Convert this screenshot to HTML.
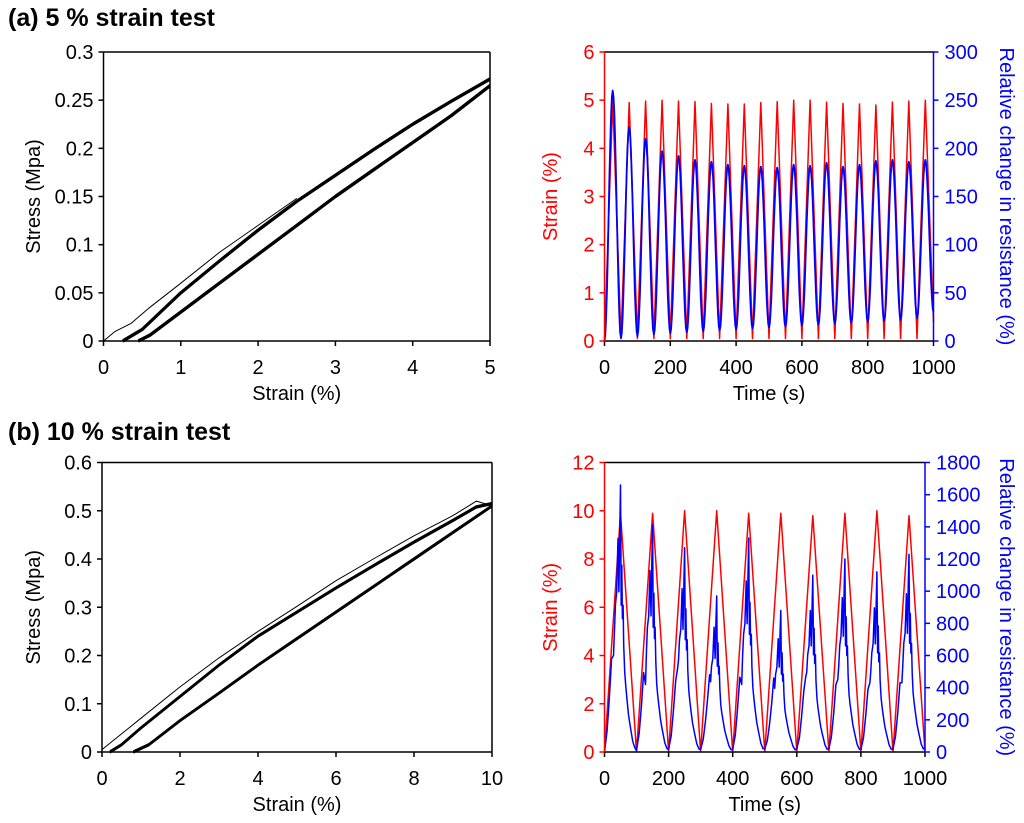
<!DOCTYPE html>
<html><head><meta charset="utf-8"><style>
html,body{margin:0;padding:0;background:#fff;}
svg{display:block;font-family:"Liberation Sans",Arial,sans-serif;}
</style></head><body>
<svg id="fig" width="1024" height="823" viewBox="0 0 1024 823" xmlns="http://www.w3.org/2000/svg">
<text x="8" y="26" font-size="25" font-weight="bold">(a) 5 % strain test</text>
<text x="8" y="440" font-size="25" font-weight="bold">(b) 10 % strain test</text>
</svg>
<script>
// ---- Data: panel (a) stress-strain ----
const aLoadX = [0.25,0.5,1,1.5,2,2.5,3,3.5,4,4.5,5];
const aLoadY = [0,0.012,0.05,0.083,0.115,0.145,0.172,0.199,0.225,0.249,0.272];
const aUnloadX = [0.45,0.6,1,1.5,2,2.5,3,3.5,4,4.5,5];
const aUnloadY = [0,0.006,0.03,0.06,0.09,0.12,0.15,0.178,0.206,0.234,0.265];
const aFirstX = [0,0.15,0.35,0.6,1,1.5,2,2.5];
const aFirstY = [0,0.01,0.018,0.035,0.06,0.092,0.12,0.148];
const aXTicks = [0,1,2,3,4,5];
const aYTicks = [0,0.05,0.1,0.15,0.2,0.25,0.3];
// ---- Data: panel (a) time series ----
const aRedPeaks = [5.0,4.95,4.98,5.0,4.98,4.97,4.93,4.92,4.92,4.95,4.97,5.0,5.0,4.96,4.93,4.92,4.9,4.96,4.98,5.0];
const aRedTroughs = [0,0.05,0.05,0.05,0.05,0.05,0.05,0.05,0.05,0.05,0.05,0.05,0.05,0.05,0.05,0.05,0.05,0.05,0.05,0.05,0.4];
const aBluePeaks = [260,222,210,197,192,188,186,183,182,181,180,183,182,185,181,183,187,188,186,188];
const aBlueTroughs = [0,3,5,7,8,9,10,11,12,13,14,15,16,17,18,19,20,21,22,24,30];
const aTimeTicks = [0,200,400,600,800,1000];
const aStrainTicks = [0,1,2,3,4,5,6];
const aResTicks = [0,50,100,150,200,250,300];
// ---- Data: panel (b) stress-strain ----
const bLoadX = [0.2,0.5,1,2,3,4,5,6,7,8,9,9.6,10];
const bLoadY = [0,0.015,0.05,0.115,0.18,0.24,0.29,0.34,0.388,0.435,0.48,0.508,0.515];
const bUnloadX = [0.8,1.2,2,3,4,5,6,7,8,9,10];
const bUnloadY = [0,0.015,0.065,0.122,0.18,0.235,0.29,0.345,0.4,0.455,0.51];
const bFirstX = [0,1,2,3,4,5,6,7,8,9,9.6,10];
const bFirstY = [0.005,0.07,0.135,0.195,0.25,0.302,0.355,0.402,0.448,0.49,0.52,0.51];
const bXTicks = [0,2,4,6,8,10];
const bYTicks = [0,0.1,0.2,0.3,0.4,0.5,0.6];
// ---- Data: panel (b) time series ----
const bRedPeaks = [9.9,9.9,10,10,9.9,9.9,9.8,9.9,10,9.8];
const bBluePeaks = [1660,1410,1270,970,1330,880,1100,1200,1120,1230];
const bBlueShoulder = [600,420,520,480,420,460,470,450,430,430];
const bBlueTroughs = [0,10,15,15,15,20,20,20,15,20,30];
const bTimeTicks = [0,200,400,600,800,1000];
const bStrainTicks = [0,2,4,6,8,10,12];
const bResTicks = [0,200,400,600,800,1000,1200,1400,1600,1800];

const NS = "http://www.w3.org/2000/svg";
const svg = document.getElementById('fig');
const FS = 20;
function mk(tag, attrs, parent){
  const e = document.createElementNS(NS, tag);
  for (const k in attrs) e.setAttribute(k, attrs[k]);
  (parent||svg).appendChild(e);
  return e;
}
function lin(d0,d1,r0,r1){ return v => r0 + (v-d0)/(d1-d0)*(r1-r0); }
function path(xs, ys, sx, sy){ return xs.map((x,i)=>(i?'L':'M')+sx(x).toFixed(1)+','+sy(ys[i]).toFixed(1)).join(''); }

function frame(x0,x1,y0,y1,leftCol,rightCol){
  let e = mk('line',{x1:x0,y1:y0,x2:x1,y2:y0,stroke:'#000','stroke-width':1.5});
   
  e = mk('line',{x1:x0,y1:y1,x2:x1,y2:y1,stroke:'#000','stroke-width':1.5});
   
  e = mk('line',{x1:x0,y1:y0,x2:x0,y2:y1,stroke:leftCol,'stroke-width':1.5});
   
  e = mk('line',{x1:x1,y1:y0,x2:x1,y2:y1,stroke:rightCol,'stroke-width':1.5});
   
}
function xTicks(ticks, sx, y1){
  ticks.forEach(t=>{
    const l = mk('line',{x1:sx(t),y1:y1,x2:sx(t),y2:y1+5,stroke:'#000','stroke-width':1.5});
     
    const tx = mk('text',{x:sx(t),y:y1+33,'font-size':FS,'text-anchor':'middle',fill:'#000'});
    tx.textContent = t;
     
  });
}
function yTicksLeft(ticks, sy, x0, col){
  ticks.forEach(t=>{
    const l = mk('line',{x1:x0-5,y1:sy(t),x2:x0,y2:sy(t),stroke:col,'stroke-width':1.5});
     
    const tx = mk('text',{x:x0-10,y:sy(t)+7,'font-size':FS,'text-anchor':'end',fill:col});
    tx.textContent = t;
     
  });
}
function yTicksRight(ticks, sy, x1, col){
  ticks.forEach(t=>{
    const l = mk('line',{x1:x1,y1:sy(t),x2:x1+5,y2:sy(t),stroke:col,'stroke-width':1.5});
     
    const tx = mk('text',{x:x1+11,y:sy(t)+7,'font-size':FS,'text-anchor':'start',fill:col});
    tx.textContent = t;
     
  });
}
function label(txt,x,y,rot,col,name){
  const t = mk('text',{x:x,y:y,'font-size':FS,'text-anchor':'middle',fill:col,transform:rot?`rotate(${rot} ${x} ${y})`:''});
  t.textContent = txt;
   
}
function curve(d,w,col,name){
  const p = mk('path',{d:d,fill:'none',stroke:col,'stroke-width':w,'stroke-linejoin':'round'});
   
}

// ===== Panel a left =====
(function(){
  const x0=103.5,x1=490,y0=52,y1=341;
  const sx=lin(0,5,x0,x1), sy=lin(0,0.3,y1,y0);
  curve(path(aFirstX,aFirstY,sx,sy),1,'#000','first-loading-curve');
  [-1,0,1].forEach(o=>{
    curve(path(aLoadX,aLoadY.map(v=>v+o*0.0006),sx,sy),2.4,'#000','loading-curve');
    curve(path(aUnloadX,aUnloadY.map(v=>v+o*0.0006),sx,sy),2.4,'#000','unloading-curve');
  });
  frame(x0,x1,y0,y1,'#000','#000');
  xTicks(aXTicks,sx,y1); yTicksLeft(aYTicks,sy,x0,'#000');
  label('Strain (%)',(x0+x1)/2,y1+59,0,'#000','x-axis-title');
  label('Stress (Mpa)',40,(y0+y1)/2,-90,'#000','y-axis-title');
})();
// ===== Panel a right =====
(function(){
  const x0=604.5,x1=933.5,y0=52,y1=341;
  const sx=lin(0,1000,x0,x1), sy=lin(0,6,y1,y0), sy2=lin(0,300,y1,y0);
  const rx=[],ry=[];
  aRedTroughs.forEach((v,i)=>{ rx.push(i*50); ry.push(v); if(i<aRedPeaks.length){rx.push(i*50+25); ry.push(aRedPeaks[i]);} });
  curve(path(rx,ry,sx,sy),1.5,'#ff0000','strain-series');
  const bx=[],by=[];
  aBlueTroughs.forEach((v,i)=>{
    if(i<aBluePeaks.length){
      const p=aBluePeaks[i], n=aBlueTroughs[i+1];
      for(let k=0;k<=10;k++){const f=k/10; bx.push(i*50+f*25); by.push(v+(p-v)*(1-Math.cos(f*Math.PI))/2);}
      for(let k=1;k<=10;k++){const f=k/10; bx.push(i*50+25+f*25); by.push(p+(n-p)*(1-Math.cos(f*Math.PI))/2);}
    }
  });
  curve(path(bx,by,sx,sy2),1.8,'#0000ff','resistance-series');
  frame(x0,x1,y0,y1,'#ff0000','#0000ff');
  xTicks(aTimeTicks,sx,y1); yTicksLeft(aStrainTicks,sy,x0,'#ff0000'); yTicksRight(aResTicks,sy2,x1,'#0000ff');
  label('Time (s)',(x0+x1)/2,y1+59,0,'#000','x-axis-title');
  label('Strain (%)',557,(y0+y1)/2,-90,'#ff0000','y-axis-title-left');
  label('Relative change in resistance (%)',1000,(y0+y1)/2,90,'#0000ff','y-axis-title-right');
})();
// ===== Panel b left =====
(function(){
  const x0=102,x1=492,y0=462.5,y1=752;
  const sx=lin(0,10,x0,x1), sy=lin(0,0.6,y1,y0);
  curve(path(bFirstX,bFirstY,sx,sy),1,'#000','first-loading-curve');
  [-1,0,1].forEach(o=>{
    curve(path(bLoadX,bLoadY.map(v=>v+o*0.002),sx,sy),1.4,'#000','loading-curve');
    curve(path(bUnloadX,bUnloadY.map(v=>v+o*0.002),sx,sy),1.4,'#000','unloading-curve');
  });
  frame(x0,x1,y0,y1,'#000','#000');
  xTicks(bXTicks,sx,y1); yTicksLeft(bYTicks,sy,x0,'#000');
  label('Strain (%)',(x0+x1)/2,y1+59,0,'#000','x-axis-title');
  label('Stress (Mpa)',40,(y0+y1)/2,-90,'#000','y-axis-title');
})();
// ===== Panel b right =====
(function(){
  const x0=604.5,x1=925,y0=462.5,y1=752;
  const sx=lin(0,1000,x0,x1), sy=lin(0,12,y1,y0), sy2=lin(0,1800,y1,y0);
  const rx=[0],ry=[0];
  bRedPeaks.forEach((p,i)=>{ rx.push(i*100+50,i*100+100); ry.push(p,0); });
  curve(path(rx,ry,sx,sy),1.5,'#ff0000','strain-series');
  const offs=[0,8,15,22,28,31,34,38,42,45,48,50,52,54,56,58,60,63,66,70,75,80,88,95,100];
  const frac=[0,0.08,0.2,0.35,0.6,0.45,0.55,0.6,0.8,0.6,0.85,1,0.55,0.7,0.5,0.55,0.4,0.3,0.25,0.2,0.14,0.1,0.04,0.015,0];
  const bx=[],by=[];
  bBluePeaks.forEach((p,i)=>{
    const t0=bBlueTroughs[i], t1=bBlueTroughs[i+1], sh=bBlueShoulder[i];
    offs.forEach((o,k)=>{
      if(i>0&&k===0) return;
      let v = (k===4) ? sh : frac[k]*p;
      if(k===0) v=t0;
      if(k===offs.length-1) v=t1;
      bx.push(i*100+o); by.push(v);
    });
  });
  curve(path(bx,by,sx,sy2),1.5,'#0000ff','resistance-series');
  frame(x0,x1,y0,y1,'#ff0000','#0000ff');
  xTicks(bTimeTicks,sx,y1); yTicksLeft(bStrainTicks,sy,x0,'#ff0000'); yTicksRight(bResTicks,sy2,x1,'#0000ff');
  label('Time (s)',(x0+x1)/2,y1+59,0,'#000','x-axis-title');
  label('Strain (%)',557,(y0+y1)/2,-90,'#ff0000','y-axis-title-left');
  label('Relative change in resistance (%)',1000,(y0+y1)/2,90,'#0000ff','y-axis-title-right');
})();
</script>
</body></html>
